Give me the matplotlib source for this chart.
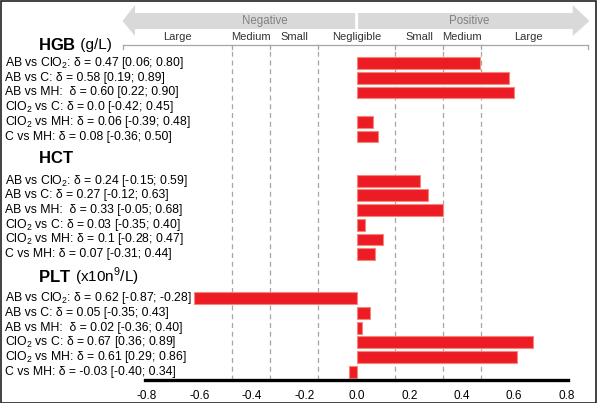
import matplotlib.pyplot as plt
import matplotlib.transforms as mtransforms
from matplotlib.patches import Polygon, Rectangle

plt.rcParams['font.family'] = ['Liberation Sans', 'DejaVu Sans']
plt.rcParams['mathtext.fontset'] = 'custom'
plt.rcParams['mathtext.rm'] = 'Liberation Sans'
plt.rcParams['mathtext.bf'] = 'Liberation Sans:bold'

# dados (delta de Cliff e IC95%)
groups = ['HGB', 'HCT', 'PLT']
group_units = [' (g/L)', '', ' (x10n$^9$/L)']
comparisons = ['AB vs ClO$_2$:', 'AB vs C:', 'AB vs MH: ', 'ClO$_2$ vs C:',
               'ClO$_2$ vs MH:', 'C vs MH:']

hgb_delta = [0.47, 0.58, 0.60, 0.0, 0.06, 0.08]
hgb_text = ['0.47', '0.58', '0.60', '0.0', '0.06', '0.08']
hgb_ci = ['[0.06; 0.80]', '[0.19; 0.89]', '[0.22; 0.90]', '[-0.42; 0.45]',
          '[-0.39; 0.48]', '[-0.36; 0.50]']

hct_delta = [0.24, 0.27, 0.33, 0.03, 0.1, 0.07]
hct_text = ['0.24', '0.27', '0.33', '0.03', '0.1', '0.07']
hct_ci = ['[-0.15; 0.59]', '[-0.12; 0.63]', '[-0.05; 0.68]', '[-0.35; 0.40]',
          '[-0.28; 0.47]', '[-0.31; 0.44]']

plt_delta = [-0.62, 0.05, 0.02, 0.67, 0.61, -0.03]
plt_text = ['0.62', '0.05', '0.02', '0.67', '0.61', '-0.03']
plt_ci = ['[-0.87; -0.28]', '[-0.35; 0.43]', '[-0.36; 0.40]', '[0.36; 0.89]',
          '[0.29; 0.86]', '[-0.40; 0.34]']

thresholds = [0.147, 0.33, 0.474]
magnitudes = ['Large', 'Medium', 'Small', 'Negligible', 'Small', 'Medium', 'Large']
xticks = [-0.8, -0.6, -0.4, -0.2, 0.0, 0.2, 0.4, 0.6, 0.8]

deltas = [hgb_delta, hct_delta, plt_delta]
texts = [hgb_text, hct_text, plt_text]
cis = [hgb_ci, hct_ci, plt_ci]
group_start = [0, 8, 16]
title_rows = [-1.22, 6.46, 14.56]

fig = plt.figure(figsize=(5.97, 4.03), dpi=100)
ax = fig.add_axes([145 / 597, 1 - 380 / 403, 423 / 597, 333 / 403])
ax.set_xlim(-0.807, 0.805)
ax.set_ylim(21.56, -1.09)

for s in ['top', 'left', 'right']:
    ax.spines[s].set_visible(False)
ax.spines['bottom'].set_linewidth(2.4)
ax.spines['bottom'].set_color('black')
ax.set_yticks([])
ax.set_xticks(xticks)
ax.set_xticklabels([f'{t:.1f}' for t in xticks], fontsize=8.5)
ax.tick_params(axis='x', length=0, pad=7)

# linhas tracejadas dos limiares
for t in thresholds:
    for sgn in (-1, 1):
        ax.axvline(sgn * t, color='#a6a6a6', lw=0.9, ls=(0, (4, 3)), zorder=1)

lab_tr = mtransforms.blended_transform_factory(fig.transFigure, ax.transData)
for g in range(3):
    rows = [group_start[g] + i for i in range(6)]
    ax.barh(rows, deltas[g], height=0.8, color='#ed1c24',
            edgecolor=['#f4877b' if d != 0 else 'none' for d in deltas[g]],
            lw=0.8, zorder=2)
    for i, r in enumerate(rows):
        ax.text(5 / 597, r, f'{comparisons[i]} δ = {texts[g][i]} {cis[g][i]}',
                transform=lab_tr, ha='left', va='center', fontsize=8.8,
                clip_on=False)
    ax.text(38 / 597, title_rows[g], r'$\mathbf{' + groups[g] + '}$',
            transform=lab_tr, ha='left', va='center', fontsize=12,
            clip_on=False)
    if group_units[g]:
        t = ax.texts[-1]
        fig.canvas.draw()
        bb = t.get_window_extent()
        ax.text(bb.x1 / fig.bbox.width, title_rows[g], group_units[g],
                transform=lab_tr, ha='left', va='center', fontsize=11,
                clip_on=False)

# setas e faixas de magnitude no topo
top_tr = mtransforms.blended_transform_factory(ax.transData, ax.transAxes)


def arrow(x0, xbase, xtip, color='#d9d9d9'):
    yb0, yb1 = (380 - 29) / 333, (380 - 13) / 333
    yh0, yh1 = (380 - 36) / 333, (380 - 5) / 333
    ym = (380 - 21) / 333
    pts = [(x0, yb0), (xbase, yb0), (xbase, yh0), (xtip, ym),
           (xbase, yh1), (xbase, yb1), (x0, yb1)]
    ax.add_patch(Polygon(pts, closed=True, color=color, transform=top_tr,
                         clip_on=False, lw=0))


arrow(-0.006, -0.845, -0.893)
arrow(0.005, 0.823, 0.887)
ax.text(-0.35, (380 - 21) / 333, 'Negative', transform=top_tr, ha='center',
        va='center', fontsize=8.3, color='#808080', clip_on=False)
ax.text(0.43, (380 - 21) / 333, 'Positive', transform=top_tr, ha='center',
        va='center', fontsize=8.3, color='#808080', clip_on=False)

edges = [-0.89, -thresholds[2], -thresholds[1], -thresholds[0],
         thresholds[0], thresholds[1], thresholds[2], 0.88]
yl = (380 - 45) / 333
ax.plot([edges[0], edges[-1]], [yl, yl], color='#a6a6a6', lw=0.9,
        transform=top_tr, clip_on=False)
for e in edges:
    ax.plot([e, e], [yl, yl - 4 / 333], color='#a6a6a6', lw=0.9,
            transform=top_tr, clip_on=False)
for i, m in enumerate(magnitudes):
    xc = (edges[i] + edges[i + 1]) / 2
    if i == 6:
        xc = 0.655
    ax.text(xc, yl + 3 / 333, m, transform=top_tr, ha='center', va='bottom',
            fontsize=8, color='#333333', clip_on=False)

fig.patches.append(Rectangle((0.001, 0.001), 0.997, 0.997, fill=False,
                             ec='#222222', lw=1.2, transform=fig.transFigure))

fig.savefig('out.png', dpi=100)
